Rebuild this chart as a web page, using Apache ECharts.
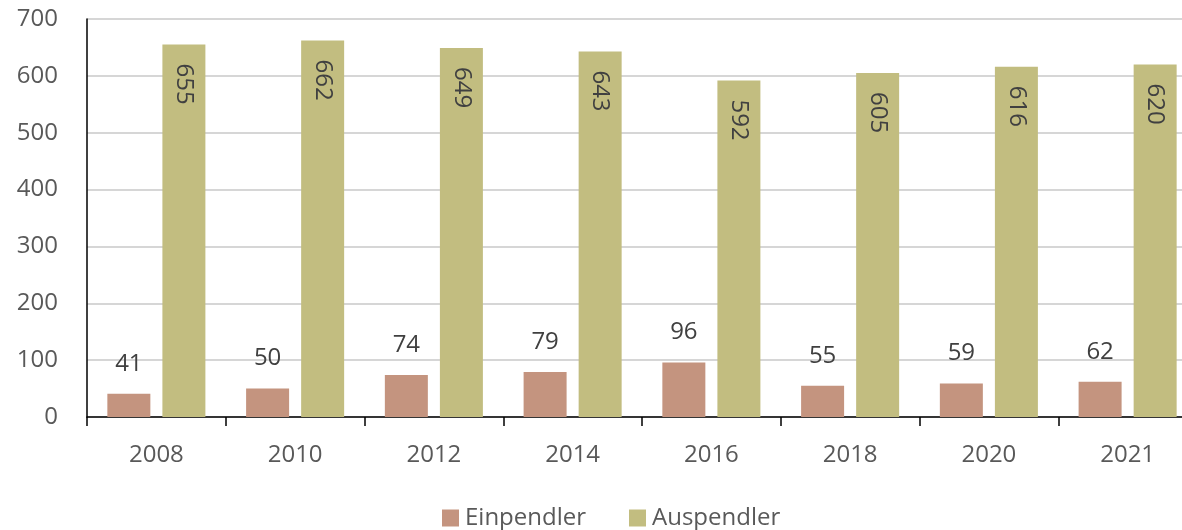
<!DOCTYPE html>
<html>
<head>
<meta charset="utf-8">
<script src="https://cdn.jsdelivr.net/npm/echarts@6/dist/echarts.min.js"></script>
<style>
  html, body { margin: 0; padding: 0; background: #fff; overflow: hidden; }
  #chart { width: 1197px; height: 530px; }
</style>
</head>
<body>
<div id="chart"></div>
<script>
var years = ['2008', '2010', '2012', '2014', '2016', '2018', '2020', '2021'];
var einpendler = [41, 50, 74, 79, 96, 55, 59, 62];
var auspendler = [655, 662, 649, 643, 592, 605, 616, 620];
var yTicks = [0, 100, 200, 300, 400, 500, 600, 700];

var textColor = '#595959';
var fontFamily = '"Open Sans", "Noto Sans", sans-serif';

var myChart = echarts.init(document.getElementById('chart'));

var option = {
    animation: false,
    textStyle: { fontFamily: fontFamily },
    grid: {
        left: 87,
        right: 0,
        top: 19,
        bottom: 113
    },
    legend: {
        left: 437,
        top: 501,
        itemWidth: 17,
        itemHeight: 17,
        itemGap: 43,
        icon: 'rect',
        textStyle: { fontSize: 24, color: textColor, fontFamily: fontFamily, padding: [0, 0, 0, 1] },
        data: ['Einpendler', 'Auspendler']
    },
    xAxis: {
        type: 'category',
        data: years,
        axisLine: { lineStyle: { color: '#000', width: 1.5 } },
        axisTick: { show: true, length: 9, lineStyle: { color: '#000', width: 1.5 } },
        axisLabel: { fontSize: 24, color: textColor, margin: 26 }
    },
    yAxis: {
        type: 'value',
        min: yTicks[0],
        max: yTicks[yTicks.length - 1],
        interval: 100,
        axisLine: { show: true, lineStyle: { color: '#000', width: 1.5 } },
        axisTick: { show: false },
        axisLabel: { fontSize: 24, color: textColor, margin: 29 },
        splitLine: { lineStyle: { color: '#c8c8c8', width: 1.5 } }
    },
    series: [
        {
            name: 'Einpendler',
            type: 'bar',
            data: einpendler,
            barWidth: 43,
            barGap: '28%',
            itemStyle: { color: '#c4947f' },
            label: {
                show: true,
                position: 'top',
                distance: 18,
                fontSize: 24,
                color: '#404040'
            }
        },
        {
            name: 'Auspendler',
            type: 'bar',
            data: auspendler,
            barWidth: 43,
            itemStyle: { color: '#c2bd80' },
            label: {
                show: true,
                position: 'insideTop',
                rotate: -90,
                align: 'left',
                verticalAlign: 'middle',
                distance: 19,
                fontSize: 24,
                color: '#404040'
            }
        }
    ]
};

myChart.setOption(option);
window.addEventListener('resize', function () {
    myChart.resize();
});
</script>
</body>
</html>
